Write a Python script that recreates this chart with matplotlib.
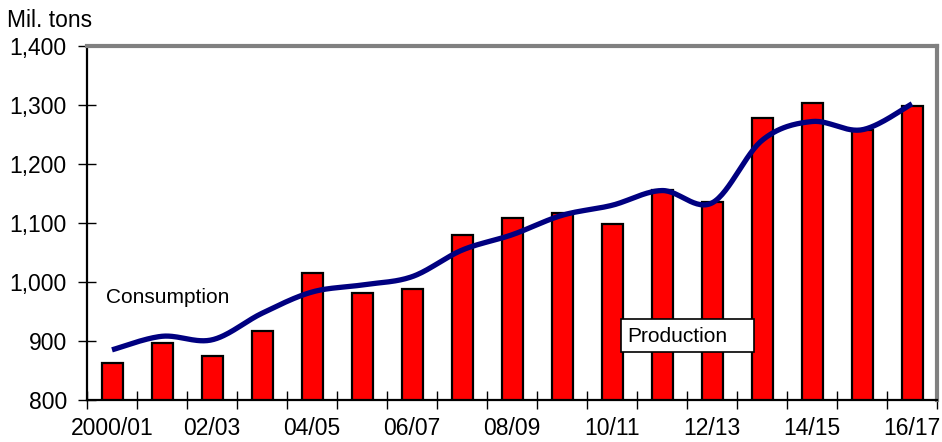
import numpy as np
import matplotlib
matplotlib.use("Agg")
import matplotlib.pyplot as plt
from matplotlib.patches import Rectangle
from matplotlib.ticker import FuncFormatter, FixedLocator

plt.rcParams['font.family'] = ['Liberation Sans', 'DejaVu Sans']

seasons = ["2000/01", "01/02", "02/03", "03/04", "04/05", "05/06", "06/07",
           "07/08", "08/09", "09/10", "10/11", "11/12", "12/13", "13/14",
           "14/15", "15/16", "16/17"]
production = [863, 897, 875, 917, 1016, 981, 988, 1080, 1108, 1117, 1098,
              1156, 1136, 1278, 1303, 1258, 1298]
consumption = [885, 908, 902, 947, 983, 995, 1009, 1054, 1080, 1113, 1130,
               1155, 1134, 1240, 1272, 1258, 1302]
y_ticks = [800, 900, 1000, 1100, 1200, 1300, 1400]


def catmull_rom(xs, ys, steps=30):
    """Smooth curve through the points (uniform Catmull-Rom)."""
    xs = np.asarray(xs, float)
    ys = np.asarray(ys, float)
    px = np.concatenate([[xs[0]], xs, [xs[-1]]])
    py = np.concatenate([[ys[0]], ys, [ys[-1]]])
    out_x, out_y = [], []
    t = np.linspace(0, 1, steps, endpoint=False)
    for i in range(1, len(px) - 2):
        for arr, out in ((px, out_x), (py, out_y)):
            p0, p1, p2, p3 = arr[i - 1], arr[i], arr[i + 1], arr[i + 2]
            out.extend(0.5 * ((2 * p1) + (-p0 + p2) * t +
                              (2 * p0 - 5 * p1 + 4 * p2 - p3) * t ** 2 +
                              (-p0 + 3 * p1 - 3 * p2 + p3) * t ** 3))
    out_x.append(xs[-1])
    out_y.append(ys[-1])
    return np.array(out_x), np.array(out_y)


fig = plt.figure(figsize=(9.42, 4.42), dpi=100)
ax = fig.add_axes([87 / 942, 1 - 400 / 442, 850 / 942, 354 / 442])

x = np.arange(len(seasons))
ax.bar(x, production, width=0.42, bottom=0, color="#FF0000",
       edgecolor="black", linewidth=1.6, zorder=2)

cx, cy = catmull_rom(x, consumption)
ax.plot(cx, cy, color="#000080", linewidth=3.8, solid_capstyle="butt",
        zorder=3)

ax.set_xlim(-0.5, len(seasons) - 0.5)
ax.set_ylim(800, 1400)

# y axis
ax.set_yticks(y_ticks)
ax.yaxis.set_major_formatter(FuncFormatter(lambda v, p: f"{int(v):,}"))
ax.tick_params(axis="y", direction="inout", length=13, width=1,
               labelsize=16.5, pad=8, colors="black")

# x axis: labels every other season, tick marks on category boundaries
ax.set_xticks(x[::2])
ax.set_xticklabels(seasons[::2])
ax.xaxis.set_minor_locator(FixedLocator(np.arange(-0.5, len(seasons), 1.0)))
ax.tick_params(axis="x", which="major", length=0, labelsize=16.5, pad=12)
ax.tick_params(axis="x", which="minor", direction="inout", length=13,
               width=1, colors="black")

for side in ("top", "right"):
    ax.spines[side].set_color("#808080")
    ax.spines[side].set_linewidth(3)
for side in ("left", "bottom"):
    ax.spines[side].set_color("black")
    ax.spines[side].set_linewidth(1.6)

ax.text(-0.12, 973, "Consumption", fontsize=15, va="center", ha="left",
        zorder=4)
ax.add_patch(Rectangle((10.18, 881), 2.66, 56, facecolor="white",
                       edgecolor="black", linewidth=1.2, zorder=4))
ax.text(10.3, 908, "Production", fontsize=15, va="center", ha="left",
        zorder=5)

fig.text(7 / 942, 1 - 27 / 442, "Mil. tons", fontsize=16.5, ha="left",
         va="baseline")

fig.savefig("out.png", dpi=100)
